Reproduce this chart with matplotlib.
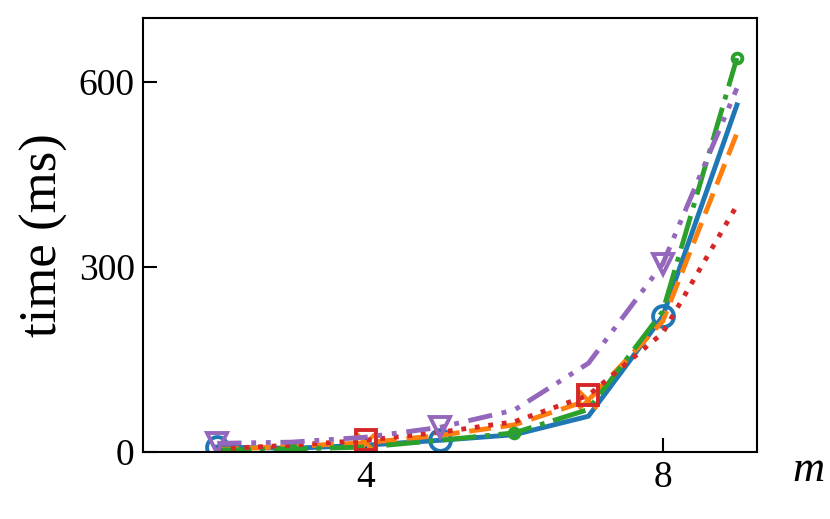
import matplotlib.pyplot as plt
from matplotlib.ticker import MultipleLocator

plt.rcParams['font.family'] = ['Liberation Serif', 'DejaVu Serif']

m = [2, 3, 4, 5, 6, 7, 8, 9]
t_blue = [8, 6, 11, 19, 28, 58, 220, 563]
t_orange = [4, 9, 15, 27, 44, 84, 212, 517]
t_green = [3, 5, 8, 19, 31, 69, 228, 639]
t_red = [5, 11, 19, 32, 49, 92, 193, 400]
t_purple = [14, 16, 24, 40, 68, 144, 305, 590]

fig = plt.figure(figsize=(8.3, 5.19), dpi=100)
ax = fig.add_axes([0.1723, 0.1291, 0.7397, 0.8362])

lw = 3.5
ax.plot(m, t_blue, color='tab:blue', ls='-', lw=lw, marker='o', ms=15, mfc='none',
        mew=2.8, markevery=(0, 3))
ax.plot(m, t_orange, color='tab:orange', ls=(0, (4.5, 2)), lw=lw, marker='x', ms=13,
        mew=2.8, markevery=(2, 3))
ax.plot(m, t_green, color='tab:green', ls=(0, (7, 1.8, 1, 1.8)), lw=lw, marker='o', ms=7,
        mfc='none', mew=2.8, markevery=(1, 3))
ax.plot(m, t_red, color='tab:red', ls=(0, (1, 1.8)), lw=lw, marker='s', ms=14, mfc='none',
        mew=2.8, markevery=(2, 3))
ax.plot(m, t_purple, color='tab:purple', ls=(0, (5, 2, 1, 2, 1, 2)), lw=lw,
        marker='v', ms=15, mfc='none', mew=2.8, markevery=(0, 3))

ax.set_xlim(1.0, 9.27)
ax.set_ylim(0, 704)
ax.xaxis.set_major_locator(MultipleLocator(4))
ax.yaxis.set_major_locator(MultipleLocator(300))
ax.tick_params(direction='in', length=10, width=1.5, labelsize=27, pad=6)
for s in ax.spines.values():
    s.set_linewidth(1.5)

ax.set_ylabel('time (ms)', fontsize=38, labelpad=8)
fig.text(808 / 830, 1 - 470 / 519, 'm', style='italic', fontsize=32,
         ha='center', va='center')

fig.savefig('out.png', dpi=100)
